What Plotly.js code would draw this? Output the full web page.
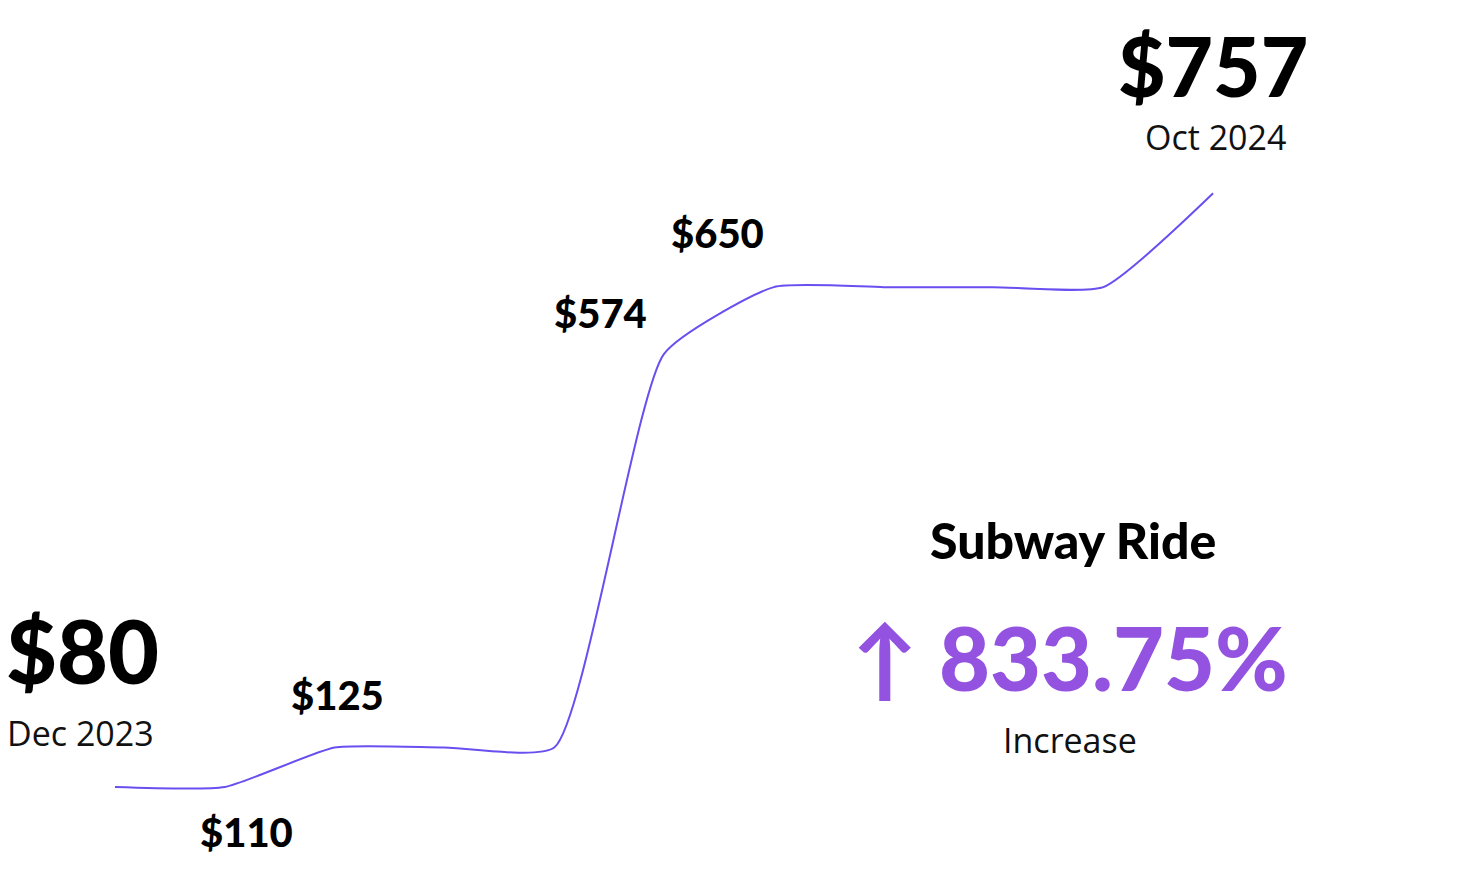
<!DOCTYPE html>
<html>
<head>
<meta charset="utf-8">
<script src="https://cdn.plot.ly/plotly-3.0.1.min.js"></script>
<style>html,body{margin:0;padding:0;background:#fff;}#chart{width:1458px;height:872px;}</style>
</head>
<body>
<div id="chart"></div>
<script>
// Monthly fare, Dec 2023 .. Oct 2024
const months = ['Dec 2023','Jan 2024','Feb 2024','Mar 2024','Apr 2024','May 2024','Jun 2024','Jul 2024','Aug 2024','Sep 2024','Oct 2024'];
const fares = [80, 80, 125, 125, 125, 574, 650, 650, 650, 650, 757];

const W = 1458, H = 872;
const heavy = 'Lato, "Noto Sans", sans-serif';
const light = '"Open Sans", "Noto Sans", sans-serif';

// label, x px, y px, size, color, family, weight
const labels = [
    ['$757', 1213, 65, 82, '#000', heavy, 900],
    ['Oct 2024', 1215, 137, 34, '#111', light, 400],
    ['$650', 717, 233, 40, '#000', heavy, 900],
    ['$574', 600, 313, 40, '#000', heavy, 900],
    ['$125', 337, 695, 40, '#000', heavy, 900],
    ['$110', 247, 832, 40, '#000', heavy, 900],
    ['$80', 82, 650, 88, '#000', heavy, 900],
    ['Dec 2023', 80, 733, 34, '#111', light, 400],
    ['Subway Ride', 1073, 540, 50, '#000', heavy, 900],
    ['↑ 833.75%', 1070, 657, 88, '#9452e0', heavy, 900],
    ['Increase', 1070, 740, 34, '#111', light, 400]
];

const annotations = labels.map(l => ({
    text: l[0], xref: 'paper', yref: 'paper', x: l[1] / W, y: 1 - l[2] / H,
    xanchor: 'center', yanchor: 'middle', showarrow: false,
    font: {size: l[3], color: l[4], family: l[5], weight: l[6]}
}));

Plotly.newPlot('chart', [{
    x: months.map((_, i) => i),
    y: fares,
    type: 'scatter',
    mode: 'lines',
    line: {color: '#6a4ef0', width: 2, shape: 'spline', smoothing: 0.5},
    hoverinfo: 'skip'
}], {
    width: W, height: H,
    margin: {t: 0, l: 0, r: 0, b: 0},
    paper_bgcolor: '#fff', plot_bgcolor: '#fff',
    showlegend: false,
    xaxis: {visible: false, range: [-1.047, 12.23], fixedrange: true},
    yaxis: {visible: false, range: [-16.9, 977.4], fixedrange: true},
    annotations: annotations
}, {staticPlot: true, displayModeBar: false});
</script>
</body>
</html>
